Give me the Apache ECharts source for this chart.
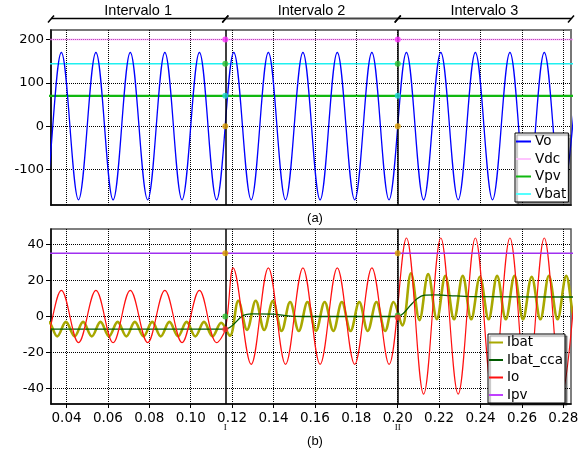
<!DOCTYPE html>
<html><head><meta charset="utf-8">
<script src="https://cdn.jsdelivr.net/npm/echarts@6/dist/echarts.min.js"></script>
<style>html,body{margin:0;padding:0;background:#fff}#c{width:587px;height:452px}</style>
</head><body><div id="c"></div>
<script>
// ---------- data ----------
const xTicks = [0.04,0.06,0.08,0.10,0.12,0.14,0.16,0.18,0.20,0.22,0.24,0.26,0.28];
const yTopTicks = [-100,0,100,200];
const yBotTicks = [-40,-20,0,20,40];
const bounds = [0.1167, 0.2];
const boundLabels = ['I','II'];
const intervalNames = ['Intervalo 1','Intervalo 2','Intervalo 3'];

// Vo: peak / trough instants and values
const voT = [0.0208,0.0292,0.0375,0.0458,0.0542,0.0625,0.0708,0.0792,0.0875,0.0958,0.1042,0.1125,0.1208,0.1292,0.1375,0.1458,0.1542,0.1625,0.1708,0.1792,0.1875,0.1958,0.2042,0.2125,0.2208,0.2292,0.2375,0.2458,0.2542,0.2625,0.2708,0.2792,0.2875];
const voV = [170,-170,170,-170,170,-170,170,-170,170,-170,170,-170,170,-170,170,-170,170,-170,170,-170,170,-170,170,-170,170,-170,170,-170,170,-170,170,-170,170];

const flatT = [0.03, 0.29];
const vdcV = [200, 200];
const vpvV = [70, 70];
const vbatV = [144, 144];
const ipvV = [35, 35];

// Io
const ioT = [0.0208,0.0292,0.0375,0.0458,0.0542,0.0625,0.0708,0.0792,0.0875,0.0958,0.1042,0.1125,0.1167,0.1205,0.1292,0.1375,0.1458,0.1542,0.1625,0.1708,0.1792,0.1875,0.1958,0.2042,0.2125,0.2208,0.2292,0.2375,0.2458,0.2542,0.2625,0.2708,0.2792,0.2875];
const ioV = [14.5,-14.5,14.5,-14.5,14.5,-14.5,14.5,-14.5,14.5,-14.5,14.5,-14.5,-7,27,-26.5,27,-26.5,27,-26.5,27,-26.5,27,-26.5,43.5,-43,43.5,-43,43.5,-43,43.5,-43,43.5,-43,43.5];

// Ibat: trough / peak instants and values
const ibatT = [0.0272,0.0314,0.0355,0.0397,0.0439,0.0480,0.0522,0.0564,0.0605,0.0647,0.0689,0.0730,0.0772,0.0814,0.0855,0.0897,0.0939,0.0980,0.1022,0.1064,0.1105,0.1147,0.1189,0.1230,0.1272,0.1314,0.1355,0.1397,0.1439,0.1480,0.1522,0.1564,0.1605,0.1647,0.1689,0.1730,0.1772,0.1814,0.1855,0.1897,0.1939,0.1980,0.2022,0.2064,0.2105,0.2147,0.2189,0.2230,0.2272,0.2314,0.2355,0.2397,0.2439,0.2480,0.2522,0.2564,0.2605,0.2647,0.2689,0.2730,0.2772,0.2814,0.2855,0.2897];
const ibatV = [-11,-3,-11,-3,-11,-3,-11,-3,-11,-3,-11,-3,-11,-3,-11,-3,-11,-3,-11,-3,-11,-3.5,-10.7,8.7,-7.4,8.7,-7.5,8.5,-8,8,-8,8,-8,8,-8,8,-8,8,-8,8,-8,8,-5,24,-2,23.5,-1.5,22.5,-1.5,22.5,-1.5,22,-1.5,22.5,-1.5,22.5,-1.5,22,-1.5,22.5,-1.5,22.5,-1.5,22.5];

// Ibat_cca
const ccaT = [0.03,0.1167,0.119,0.1215,0.124,0.1265,0.13,0.14,0.145,0.15,0.16,0.2,0.2025,0.206,0.2095,0.213,0.218,0.225,0.235,0.29];
const ccaV = [-7,-7,-6,-3.5,-0.5,1,1.4,1.3,0.6,0.1,0,0,1.5,6,10,11.8,12,11.6,11,10.8];

// dots at the interval boundaries
const mkTopVdc = [200,200], mkTopVbat = [144,144], mkTopVpv = [70,70], mkTopVo = [0,0];
const mkBotIpv = [35,35], mkBotCca = [0,0.5], mkBotIo = [-7,-0.5];

// ---------- chart ----------
const zip = (xs, ys) => xs.map((x, i) => [x, ys[i]]);
const X_MIN = 0.0325, X_MAX = 0.2837;
const tickFont = {fontFamily: 'DejaVu Sans', fontSize: 13, color: '#000'};
const gridLine = {show: true, lineStyle: {color: '#000', type: 'dotted', width: 1}};

function xAxisCfg(gi, labels) {
  return {
    type: 'value', gridIndex: gi, min: X_MIN, max: X_MAX,
    axisLine: {show: true, onZero: false, lineStyle: {color: '#000', width: 1.5}},
    axisTick: {show: labels, length: 4, inside: false, customValues: xTicks, lineStyle: {color: '#000'}},
    axisLabel: {show: labels, customValues: xTicks, margin: 7, formatter: v => v.toFixed(2), ...tickFont, fontSize: 13.5},
    splitLine: gridLine
  };
}
function yAxisCfg(gi, min, max, ticks) {
  return {
    type: 'value', gridIndex: gi, min: min, max: max,
    axisLine: {show: true, onZero: false, lineStyle: {color: '#000', width: 1.5}},
    axisTick: {show: true, length: 5, customValues: ticks, lineStyle: {color: '#000'}},
    axisLabel: {customValues: ticks, margin: 7, ...tickFont},
    splitLine: gridLine
  };
}
function lineS(name, xi, data, color, width, extra) {
  return Object.assign({
    name: name, type: 'line', xAxisIndex: xi, yAxisIndex: xi, data: data,
    showSymbol: false, symbol: 'none', color: color,
    lineStyle: {color: color, width: width}, z: 2
  }, extra || {});
}
function dots(xi, vals, color) {
  return {
    type: 'scatter', xAxisIndex: xi, yAxisIndex: xi, data: zip(bounds, vals),
    symbolSize: 6, itemStyle: {color: color}, z: 6, silent: true
  };
}
function boundLines(xi) {
  return {
    type: 'line', xAxisIndex: xi, yAxisIndex: xi, data: [], z: 4,
    markLine: {silent: true, symbol: 'none', precision: 5, label: {show: false}, animation: false,
      lineStyle: {color: '#000', width: 1.5, type: 'solid'},
      data: bounds.map(b => ({xAxis: b}))}
  };
}
const legendBase = {
  orient: 'vertical', icon: 'rect', itemWidth: 15, itemHeight: 2, itemGap: 3.5,
  backgroundColor: '#fff', borderColor: '#000', borderWidth: 1, padding: [1.5, 2, 1, 1],
  shadowColor: 'rgba(0,0,0,0.45)', shadowOffsetX: 2, shadowOffsetY: 2, shadowBlur: 1,
  textStyle: {fontFamily: 'DejaVu Sans', fontSize: 13.5, color: '#000', padding: [0, 0, 0, -1]},
  selectedMode: false
};

const chart = echarts.init(document.getElementById('c'), null, {renderer: 'canvas'});
const option = {
  animation: false,
  backgroundColor: '#fff',
  grid: [
    {left: 51, right: 16, top: 30, height: 175, show: true, borderColor: '#777', borderWidth: 2, backgroundColor: 'transparent'},
    {left: 51, right: 16, top: 229, height: 175, show: true, borderColor: '#555', borderWidth: 1.5, backgroundColor: 'transparent'}
  ],
  xAxis: [xAxisCfg(0, false), xAxisCfg(1, true)],
  yAxis: [yAxisCfg(0, -182, 222, yTopTicks), yAxisCfg(1, -48.5, 48.5, yBotTicks)],
  legend: [
    Object.assign({}, legendBase, {left: 515, top: 133,
      data: [{name: 'Vo'}, {name: 'Vdc', itemStyle: {color: '#ffc4ff'}}, {name: 'Vpv'}, {name: 'Vbat', itemStyle: {color: '#55ffff'}}]}),
    Object.assign({}, legendBase, {left: 488, top: 334, itemWidth: 14,
      data: [{name: 'Ibat'}, {name: 'Ibat_cca'}, {name: 'Io'}, {name: 'Ipv', itemStyle: {color: '#c040ff'}}]})
  ],
  series: [
    lineS('Vdc', 0, zip(flatT, vdcV), '#ff80ff', 1.5, {lineStyle: {color: '#ff80ff', width: 1.5, opacity: 0.7}}),
    lineS('Vbat', 0, zip(flatT, vbatV), '#1ff0f0', 1.5),
    lineS('Vpv', 0, zip(flatT, vpvV), '#10b810', 2.2),
    lineS('Vo', 0, zip(voT, voV), '#0000ff', 1.3, {smooth: 0.36}),
    boundLines(0),
    dots(0, mkTopVdc, '#ff30ff'),
    dots(0, mkTopVbat, '#30c030'),
    dots(0, mkTopVpv, '#20d8d8'),
    dots(0, mkTopVo, '#e0a000'),

    lineS('Ibat', 1, zip(ibatT, ibatV), '#a8a800', 2.6, {smooth: 0.36}),
    lineS('Ibat_cca', 1, zip(ccaT, ccaV), '#005a00', 1.3, {smooth: 0.3}),
    lineS('Io', 1, zip(ioT, ioV), '#ff1010', 1.2, {smooth: 0.36}),
    lineS('Ipv', 1, zip(flatT, ipvV), '#a030f0', 1.5),
    boundLines(1),
    dots(1, mkBotIpv, '#e0a000'),
    dots(1, mkBotCca, '#30c030'),
    dots(1, mkBotIo, '#ff3030')
  ]
};
chart.setOption(option);

// decorations: interval brackets, labels
const px = v => chart.convertToPixel({xAxisIndex: 0}, v);
const edges = [X_MIN, bounds[0], bounds[1], X_MAX].map(px);
const g = [];
const lineY = 18.5;
for (let i = 0; i < 3; i++) {
  const a = edges[i], b = edges[i + 1];
  const col = i === 1 ? '#444' : '#000';
  const w = i === 1 ? 2 : 1.5;
  g.push({type: 'line', shape: {x1: a, y1: lineY, x2: b, y2: lineY}, style: {stroke: col, lineWidth: w}});
  g.push({type: 'line', shape: {x1: a - 3, y1: lineY + 4, x2: a + 3, y2: lineY - 3}, style: {stroke: '#000', lineWidth: 1.5}});
  g.push({type: 'line', shape: {x1: b - 3, y1: lineY + 4, x2: b + 3, y2: lineY - 3}, style: {stroke: '#000', lineWidth: 1.5}});
  g.push({type: 'text', x: (a + b) / 2, y: 10.5,
    style: {text: intervalNames[i], fontFamily: 'Liberation Sans', fontSize: 14.5, fill: '#000', align: 'center', verticalAlign: 'middle'}});
}
bounds.forEach((b, i) => {
  g.push({type: 'text', x: px(b), y: 428,
    style: {text: boundLabels[i], fontFamily: 'Liberation Serif', fontSize: 9, fill: '#000', align: 'center', verticalAlign: 'middle'}});
});
g.push({type: 'text', x: 315, y: 218, style: {text: '(a)', fontFamily: 'Liberation Sans', fontSize: 13, fill: '#000', align: 'center', verticalAlign: 'middle'}});
g.push({type: 'text', x: 315, y: 441.5, style: {text: '(b)', fontFamily: 'Liberation Sans', fontSize: 13, fill: '#000', align: 'center', verticalAlign: 'middle'}});
chart.setOption({graphic: g});
</script>
</body></html>
